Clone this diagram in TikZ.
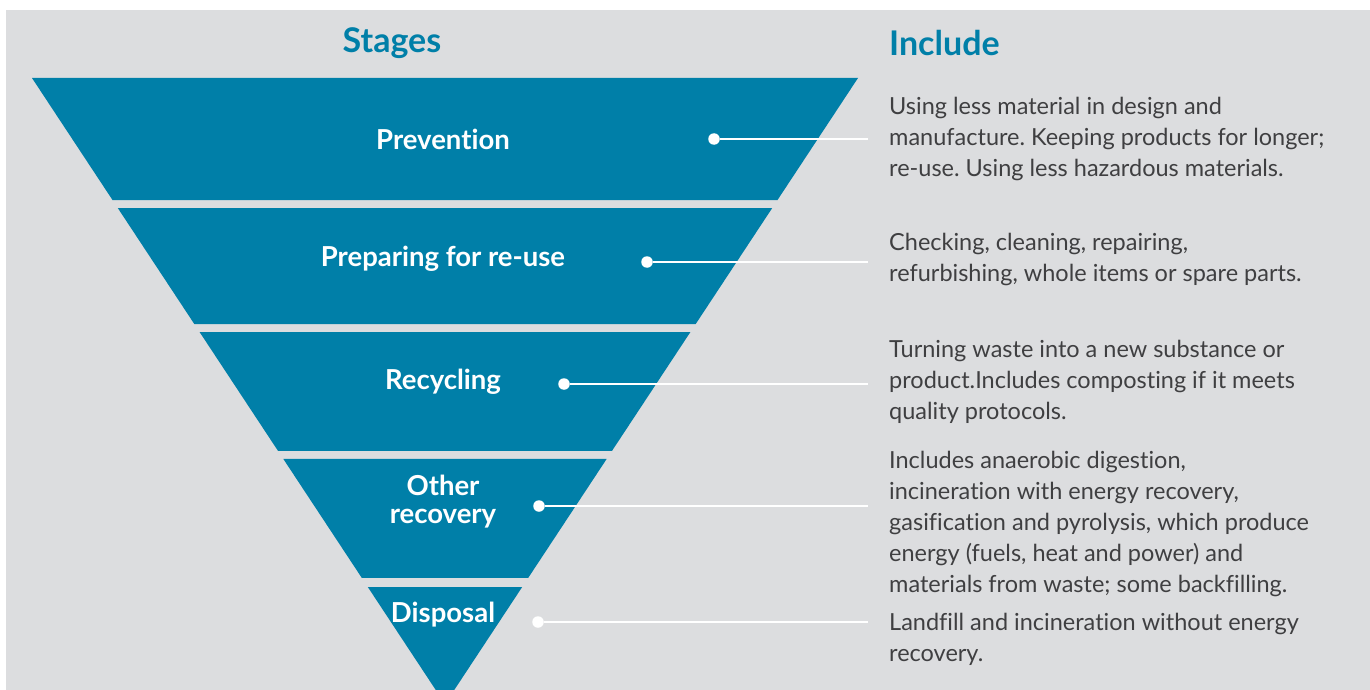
\documentclass[tikz,border=0pt]{standalone}
\usepackage{fontspec}
\setmainfont{Lato}[Ligatures=NoCommon]
\usetikzlibrary{positioning}
\usetikzlibrary{calc}
\definecolor{hierblue}{HTML}{007FA8}
\definecolor{hiergray}{HTML}{DCDDDF}
\definecolor{hiertext}{HTML}{3F3F41}
\frenchspacing

\begin{document}
\begin{tikzpicture}[x=1pt, y=-1pt, band/.style={fill=hierblue}, stlabel/.style={text=white, font=\fontsize{27.5}{28}\selectfont\bfseries, align=center}, desc/.style={text=hiertext, font=\fontsize{23.5}{31}\selectfont, align=left, anchor=west, inner sep=0pt}, dotnode/.style={circle, fill=white, inner sep=0pt, minimum size=11.5pt}, link/.style={white, line width=2.5pt}, heading/.style={text=hierblue, font=\fontsize{34}{36}\selectfont\bfseries}]
			\useasboundingbox (0,0) rectangle (1370,690);
			\fill[white] (0,0) rectangle (1370,690);
			\fill[hiergray] (6,10) rectangle (1370,690);
			\clip (6,10) rectangle (1370,690);
			\coordinate (tl) at (32,78);
			\coordinate (tr) at (858,78);
			\coordinate (apex) at (445,704);
			\foreach \a/\b in {0/0.1949, 0.2077/0.3930, 0.4058/0.5958, 0.6086/0.7987, 0.8131/1}
				\fill[band] ($(tl)!\a!(apex)$) -- ($(tr)!\a!(apex)$) -- ($(tr)!\b!(apex)$) -- ($(tl)!\b!(apex)$) -- cycle;
			\node[heading] (stages) at (392,43) {Stages};
			\node[heading, anchor=west, inner sep=0pt] (include) at (889,43) {Include};
			\node[stlabel] (prevention) at (443,139) {Prevention};
			\node[stlabel] (reuse) at (443,259) {Preparing for re-use};
			\node[stlabel] (recycling) at (443,382) {Recycling};
			\node[stlabel] (recovery) at (443,502) {Other\\recovery};
			\node[stlabel] (disposal) at (443,615) {Disposal};
			\node[desc] (tprev) at (889,139) {Using less material in design and\\manufacture. Keeping products for longer;\\re-use. Using less hazardous materials.};
			\node[desc] (treuse) at (889,259) {Checking, cleaning, repairing,\\refurbishing, whole items or spare parts.};
			\node[desc] (trecy) at (889,382) {Turning waste into a new substance or\\product.Includes composting if it meets\\quality protocols.};
			\node[desc] (treco) at (889,524) {Includes anaerobic digestion,\\incineration with energy recovery,\\gasification and pyrolysis, which produce\\energy (fuels, heat and power) and\\materials from waste; some backfilling.};
			\node[desc] (tdisp) at (889,639) {Landfill and incineration without energy\\recovery.};
			\node[dotnode] (dprev) at (714,139) {};
			\node[dotnode] (dreuse) at (647,262) {};
			\node[dotnode] (drecy) at (564,384) {};
			\node[dotnode] (dreco) at (539,506) {};
			\node[dotnode] (ddisp) at (538,622) {};
			\coordinate (eprev) at (868,139);
			\coordinate (ereuse) at (868,262);
			\coordinate (erecy) at (868,384);
			\coordinate (ereco) at (868,506);
			\coordinate (edisp) at (868,622);
			\draw[link] (dprev) -- (eprev);
			\draw[link] (dreuse) -- (ereuse);
			\draw[link] (drecy) -- (erecy);
			\draw[link] (dreco) -- (ereco);
			\draw[link] (ddisp) -- (edisp);
		\end{tikzpicture}
\end{document}
